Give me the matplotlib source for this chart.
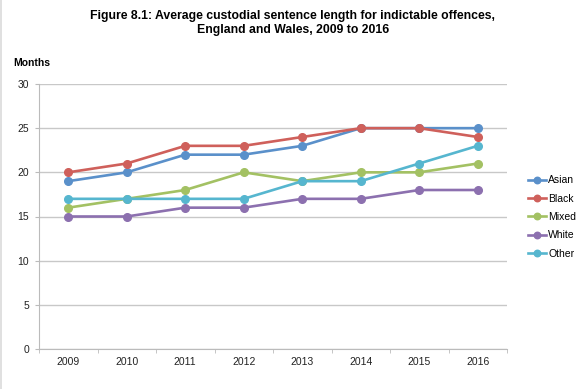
import numpy as np
import matplotlib.pyplot as plt
from matplotlib.patches import Rectangle

# data
years = ['2009', '2010', '2011', '2012', '2013', '2014', '2015', '2016']
asian = [19, 20, 22, 22, 23, 25, 25, 25]
black = [20, 21, 23, 23, 24, 25, 25, 24]
mixed = [16, 17, 18, 20, 19, 20, 20, 21]
white = [15, 15, 16, 16, 17, 17, 18, 18]
other = [17, 17, 17, 17, 19, 19, 21, 23]

series = [
    ('Asian', asian, '#5A90CA'),
    ('Black', black, '#CF605B'),
    ('Mixed', mixed, '#A3C163'),
    ('White', white, '#8C70AF'),
    ('Other', other, '#56B6CF'),
]

plt.rcParams['font.family'] = ['Liberation Sans', 'DejaVu Sans']

W, H = 586, 389
fig = plt.figure(figsize=(W / 100, H / 100), dpi=100)
fig.patch.set_facecolor('white')
ax = fig.add_axes([39 / W, 1 - 349 / H, (507 - 39) / W, (349 - 84) / H])

x = np.arange(len(years))
for name, vals, col in series:
    ax.plot(x, vals, color=col, linewidth=1.9, marker='o', markersize=5.5,
            label=name, zorder=3)

ax.set_xlim(-0.5, len(years) - 0.5)
ax.set_ylim(0, 30)
ax.set_yticks(range(0, 31, 5))
ax.set_xticks(x)
ax.set_xticklabels(years, fontsize=7.5, color='#222222')
ax.set_xticks(np.arange(-0.5, len(years), 1), minor=True)
ax.tick_params(axis='x', which='major', length=0, pad=6)
ax.tick_params(axis='x', which='minor', length=3, color='#BBBBBB')
ax.tick_params(axis='y', labelsize=7.5, colors='#222222', length=3,
               color='#BBBBBB', pad=4)

ax.grid(axis='y', color='#C8C8C8', linewidth=1)
ax.set_axisbelow(True)
for s in ['top', 'right']:
    ax.spines[s].set_visible(False)
ax.spines['left'].set_color('#BBBBBB')
ax.spines['bottom'].set_color('#BBBBBB')

fig.text(293 / W, 1 - 23 / H,
         'Figure 8.1: Average custodial sentence length for indictable offences,\n'
         'England and Wales, 2009 to 2016',
         ha='center', va='center', fontsize=8.8, fontweight='bold', linespacing=1.25)
fig.text(13 / W, 1 - 63 / H, 'Months', fontsize=7.5, fontweight='bold',
         va='center')

fig.legend(loc='center left', bbox_to_anchor=(528 / W, 1 - 217 / H),
           bbox_transform=fig.transFigure, frameon=False, borderpad=0,
           borderaxespad=0, fontsize=7.5, handlelength=1.7, markerscale=0.85,
           handletextpad=0.25, labelspacing=0.8)

# thin light border on the left edge
fig.add_artist(Rectangle((0, 0), 2 / W, 1, transform=fig.transFigure,
                         color='#E0E0E0', lw=0))

fig.savefig('out.png', dpi=100)
